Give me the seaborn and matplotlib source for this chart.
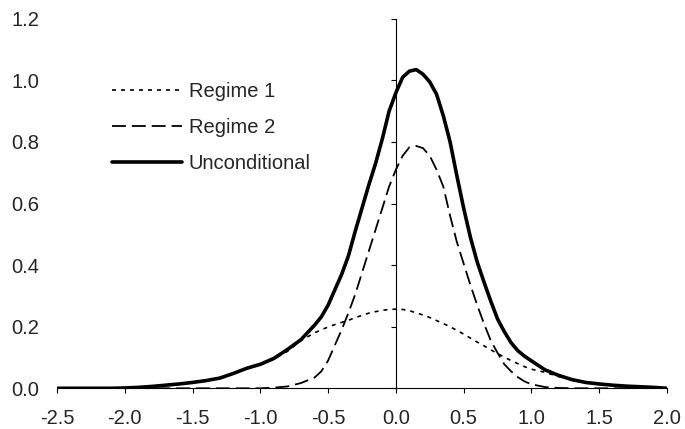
import numpy as np
import pandas as pd
import matplotlib
matplotlib.use("Agg")
import matplotlib.pyplot as plt
from matplotlib.ticker import FormatStrFormatter
import seaborn as sns

# -------------------------------
# DENSITY VALUES
# -------------------------------

X_VALUES = [
    -2.5, -2.4, -2.3, -2.2, -2.1, -2.0, -1.9, -1.8, -1.7, -1.6,
    -1.5, -1.4, -1.3, -1.2, -1.1, -1.0, -0.9, -0.8, -0.7,
    -0.6, -0.55, -0.5, -0.45, -0.4, -0.35, -0.3, -0.25, -0.2, -0.15,
    -0.1, -0.05, 0.0, 0.05, 0.1, 0.15, 0.2, 0.25, 0.3, 0.35,
    0.4, 0.45, 0.5, 0.55, 0.6, 0.65, 0.7, 0.75, 0.8, 0.85,
    0.9, 0.95, 1.0,
    1.1, 1.2, 1.3, 1.4, 1.5, 1.6, 1.7, 1.8, 1.9, 2.0,
]

REGIME_1 = [
    0.0, 0.0, 0.0, 0.0, 0.0, 0.001, 0.003, 0.006, 0.010, 0.014,
    0.019, 0.025, 0.033, 0.048, 0.064, 0.077, 0.095, 0.120, 0.155,
    0.180, 0.190, 0.199, 0.207, 0.214, 0.221, 0.229, 0.237, 0.244, 0.249,
    0.253, 0.256, 0.257, 0.256, 0.252, 0.245, 0.238, 0.230, 0.220, 0.210,
    0.200, 0.188, 0.176, 0.163, 0.150, 0.138, 0.125, 0.113, 0.101, 0.090,
    0.080, 0.070, 0.062,
    0.052, 0.038, 0.027, 0.019, 0.014, 0.010, 0.007, 0.005, 0.003, 0.0,
]

REGIME_2 = [
    0.0, 0.0, 0.0, 0.0, 0.0, 0.0, 0.0, 0.0, 0.0, 0.0,
    0.0, 0.0, 0.0, 0.0, 0.0, 0.0, 0.002, 0.006, 0.017,
    0.035, 0.055, 0.090, 0.140, 0.190, 0.245, 0.305, 0.375, 0.445, 0.515,
    0.585, 0.655, 0.710, 0.755, 0.783, 0.787, 0.780, 0.755, 0.710, 0.655,
    0.560, 0.475, 0.405, 0.335, 0.270, 0.210, 0.155, 0.115, 0.078, 0.055,
    0.036, 0.022, 0.013,
    0.004, 0.001, 0.0, 0.0, 0.0, 0.0, 0.0, 0.0, 0.0, 0.0,
]

UNCONDITIONAL = [
    0.0, 0.0, 0.0, 0.0, 0.0, 0.001, 0.003, 0.006, 0.010, 0.014,
    0.019, 0.025, 0.033, 0.048, 0.065, 0.078, 0.097, 0.126, 0.158,
    0.205, 0.232, 0.270, 0.320, 0.370, 0.430, 0.510, 0.585, 0.660, 0.730,
    0.810, 0.900, 0.960, 1.010, 1.030, 1.035, 1.020, 0.995, 0.955, 0.885,
    0.800, 0.690, 0.585, 0.490, 0.410, 0.345, 0.283, 0.225, 0.184, 0.148,
    0.122, 0.104, 0.089,
    0.060, 0.042, 0.028, 0.019, 0.014, 0.010, 0.007, 0.005, 0.003, 0.0,
]

Y_TICKS = [0.0, 0.2, 0.4, 0.6, 0.8, 1.0, 1.2]
X_TICKS = [-2.5, -2.0, -1.5, -1.0, -0.5, 0.0, 0.5, 1.0, 1.5, 2.0]

# -------------------------------
# PLOT
# -------------------------------

sns.set_theme(style="white")
plt.rcParams["font.family"] = ["Liberation Sans", "DejaVu Sans"]
plt.rcParams["axes.unicode_minus"] = False

fig = plt.figure(figsize=(6.85, 4.29), dpi=100)
ax = fig.add_axes([0.0832, 0.0949, 0.8905, 0.8613])

sns.lineplot(x=X_VALUES, y=REGIME_1, ax=ax, color="black", lw=1.2,
             linestyle=(0, (2.4, 3.0)), label="Regime 1")
sns.lineplot(x=X_VALUES, y=REGIME_2, ax=ax, color="black", lw=1.3,
             linestyle=(0, (7.7, 3.3)), label="Regime 2")
sns.lineplot(x=X_VALUES, y=UNCONDITIONAL, ax=ax, color="black", lw=2.6,
             label="Unconditional")

ax.set_xlim(-2.5, 2.0)
ax.set_ylim(0, 1.2)
ax.set_xticks(X_TICKS)
ax.set_yticks(Y_TICKS)
ax.xaxis.set_major_formatter(FormatStrFormatter("%.1f"))

# y axis line crosses at x = 0, labels stay on the left edge
for side in ["top", "right"]:
    ax.spines[side].set_visible(False)
ax.spines["left"].set_position(("data", 0))
for side in ["left", "bottom"]:
    ax.spines[side].set_color("black")
    ax.spines[side].set_linewidth(0.8)
ax.tick_params(axis="y", direction="out", length=3.6, width=0.8, color="black",
               labelleft=False, left=True)
ax.tick_params(axis="x", direction="out", length=3.6, width=0.8, color="black",
               labelsize=14.5, pad=11, bottom=True)

sec = ax.secondary_yaxis("left")
sec.spines["left"].set_visible(False)
sec.set_yticks(Y_TICKS)
sec.yaxis.set_major_formatter(FormatStrFormatter("%.1f"))
sec.tick_params(length=0, pad=13, labelsize=14.5)

ax.set_xlabel("")
ax.set_ylabel("")

ax.legend(loc="upper left", bbox_to_anchor=(0.1635, 0.809), bbox_transform=fig.transFigure,
          frameon=False, fontsize=14.5, handlelength=3.5, handletextpad=0.3,
          labelspacing=0.85, borderpad=0, borderaxespad=0)

fig.savefig("out.png", dpi=100)
